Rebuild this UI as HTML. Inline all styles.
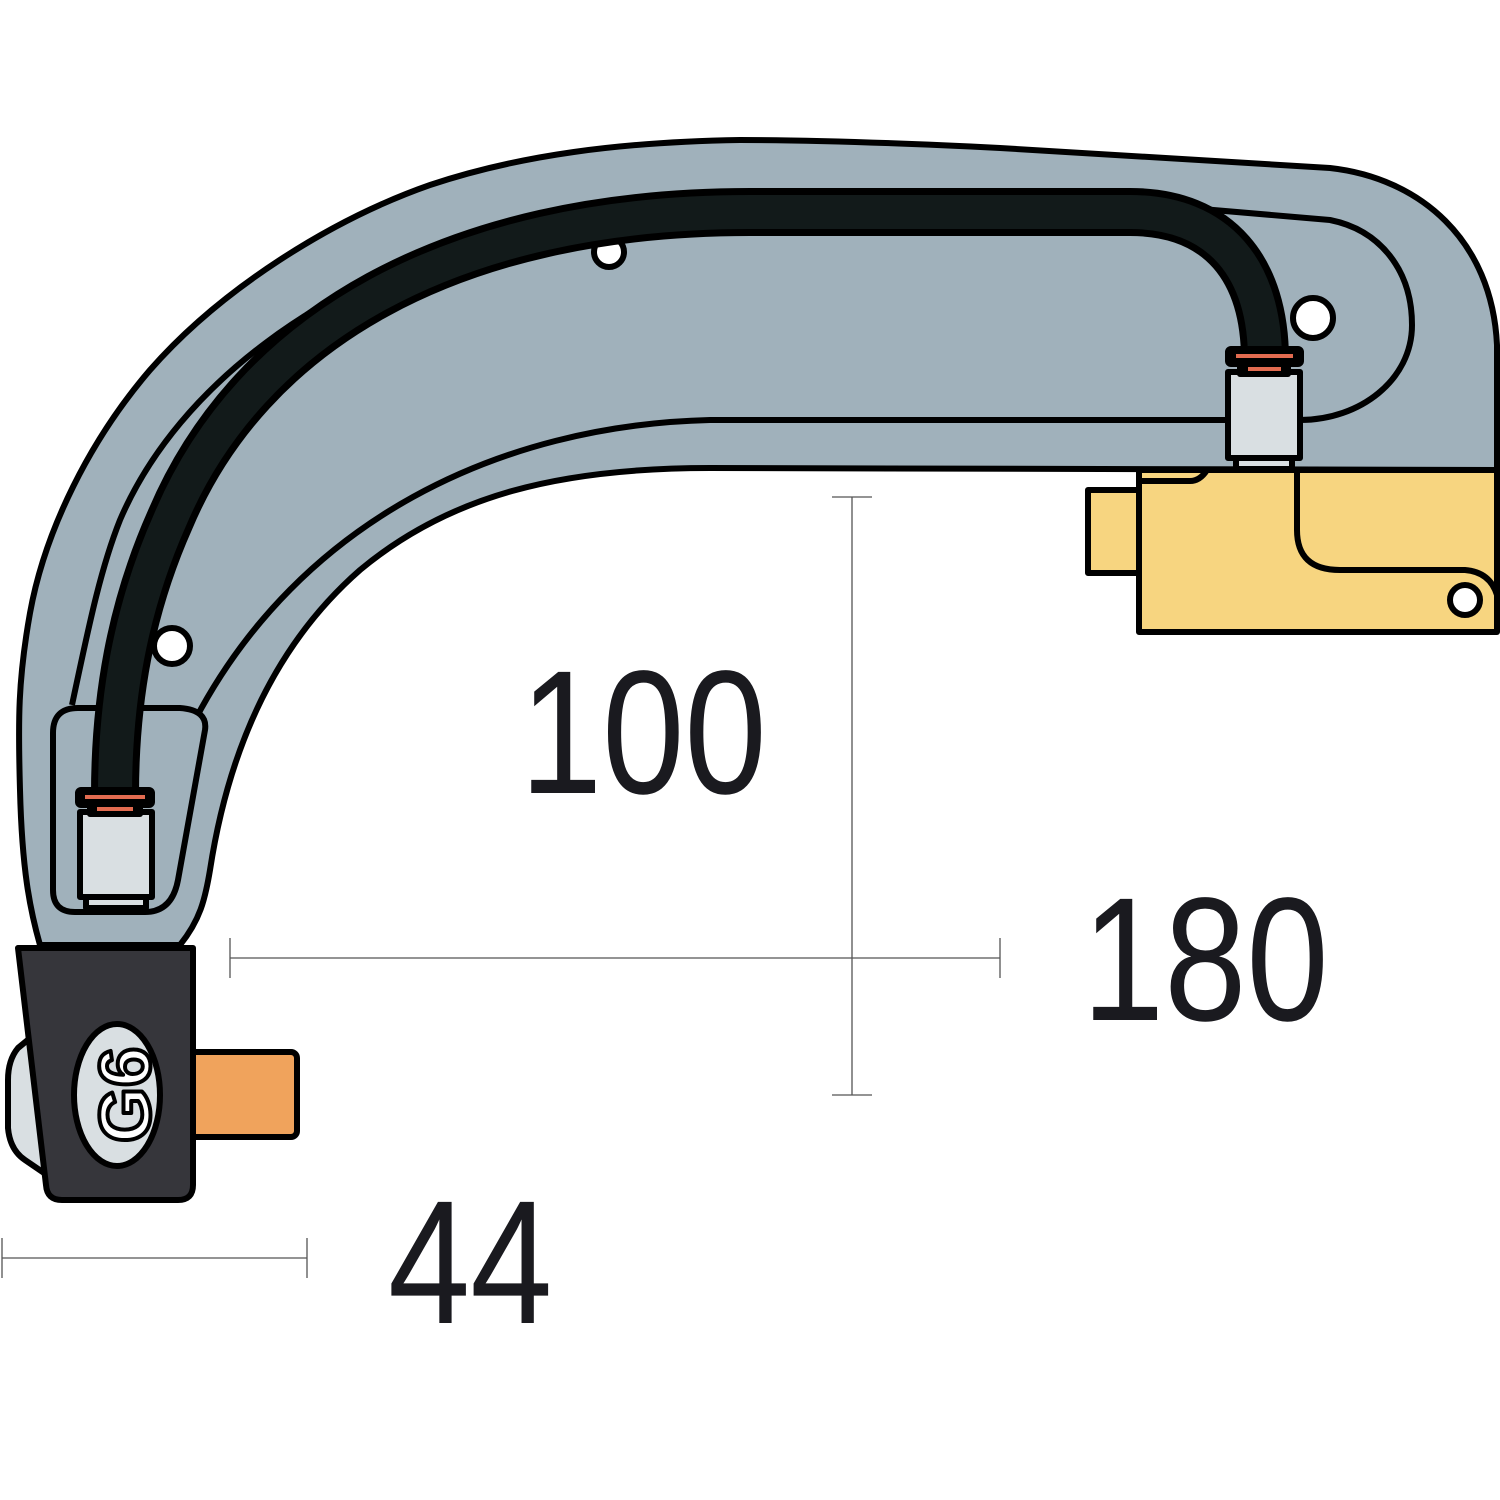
<!DOCTYPE html>
<html><head><style>html,body{margin:0;padding:0;background:#fff}svg{display:block}</style></head>
<body>
<svg width="1500" height="1500" viewBox="0 0 1500 1500" xmlns="http://www.w3.org/2000/svg">
<g stroke="#000" stroke-width="6" stroke-linejoin="round">
<!-- arm -->
<path fill="#a0b1bb" d="M1497,470 L1497,345 C1492,240 1420,178 1330,168 L1000,148 C900,143 800,140 740,140 C620,142 520,155 430,185 C330,220 220,290 150,370 C90,440 45,530 30,613 C18,680 18,720 20,790 C22,870 30,910 40,945 L180,945 C200,920 205,900 210,870 C230,740 280,640 360,570 C450,495 560,468 710,468 Z"/>
<path fill="none" d="M1190,208 L1330,220 C1380,230 1412,270 1412,325 C1412,380 1360,420 1300,420 L710,420 C500,425 300,520 195,720"/>
<path fill="none" d="M485,236 C330,280 180,380 120,520 C100,570 88,630 72,705"/>
<!-- holes -->
<circle cx="609" cy="252" r="15" fill="#fff"/>
<circle cx="1313" cy="318" r="20" fill="#fff"/>
<circle cx="172" cy="646" r="18" fill="#fff"/>
<!-- left box -->
<path fill="#a0b1bb" d="M78,708 L180,708 Q208,710 205,730 L178,880 Q172,912 145,912 L75,912 Q53,912 53,890 L53,733 Q53,708 78,708 Z"/>
<!-- hose -->
<path fill="none" stroke="#000" stroke-width="48" stroke-linejoin="round" d="M1265,360 C1265,270 1220,212 1130,212 L750,212 C450,212 250,330 170,520 C130,610 115,700 115,795"/>
<path fill="none" stroke="#121a1a" stroke-width="34" d="M1265,360 C1265,270 1220,212 1130,212 L750,212 C450,212 250,330 170,520 C130,610 115,700 115,795"/>
<!-- yellow block -->
<rect x="1088" y="490" width="52" height="83" fill="#f7d580"/>
<rect x="1139" y="470" width="358" height="162" fill="#f7d580"/>
<path fill="none" d="M1140,481 L1190,481 Q1200,481 1207,470"/>
<path fill="none" d="M1297,470 L1297,530 Q1297,570 1340,570 L1465,570 Q1490,572 1497,595"/>
<circle cx="1465" cy="600" r="15" fill="#fff"/>
<!-- right fitting -->
<rect x="1236" y="455" width="56" height="14" fill="#d9dfe2"/>
<rect x="1228" y="372" width="72" height="86" fill="#d9dfe2"/>
<rect x="1240" y="362" width="48" height="12" fill="#000"/>
<rect x="1228" y="349" width="73" height="15" rx="3" fill="#000"/>
<rect x="1236" y="354" width="57" height="4" fill="#e26b50" stroke="none"/>
<rect x="1248" y="367" width="33" height="4" fill="#e26b50" stroke="none"/>
<!-- left fitting -->
<rect x="86" y="894" width="60" height="14" fill="#d9dfe2"/>
<rect x="80" y="812" width="72" height="85" fill="#d9dfe2"/>
<rect x="90" y="802" width="50" height="12" fill="#000"/>
<rect x="78" y="790" width="74" height="15" rx="3" fill="#000"/>
<rect x="85" y="795" width="60" height="4" fill="#e26b50" stroke="none"/>
<rect x="97" y="807" width="36" height="4" fill="#e26b50" stroke="none"/>
<!-- head -->
<path fill="#d9dfe2" d="M40,1030 L18,1048 Q8,1060 8,1080 L8,1128 Q10,1150 25,1160 L47,1175 Z"/>
<rect x="190" y="1052" width="107" height="85" rx="6" fill="#f0a35c"/>
<path fill="#36363b" d="M18,948 L193,948 L193,1185 Q193,1200 178,1200 L62,1200 Q47,1200 46,1185 Z"/>
<ellipse cx="117" cy="1095" rx="43" ry="71" fill="#d9dfe2"/>
<text x="0" y="0" transform="translate(150,1095) rotate(-90)" font-family="Liberation Sans, sans-serif" font-size="72" font-weight="bold" fill="#fff" stroke="#000" stroke-width="4" text-anchor="middle">G6</text>
</g>
<!-- dimensions -->
<g stroke="#555" stroke-width="1.3" fill="none">
<line x1="852" y1="497" x2="852" y2="1095"/><line x1="832" y1="497" x2="872" y2="497"/><line x1="832" y1="1095" x2="872" y2="1095"/>
<line x1="230" y1="958" x2="1000" y2="958"/><line x1="230" y1="938" x2="230" y2="978"/><line x1="1000" y1="938" x2="1000" y2="978"/>
<line x1="2" y1="1258" x2="307" y2="1258"/><line x1="307" y1="1238" x2="307" y2="1278"/><line x1="2" y1="1238" x2="2" y2="1278"/>
</g>
<g font-family="Liberation Sans, sans-serif" font-size="176" fill="#1a1a1f">
<text transform="translate(520,793) scale(0.84,1)">100</text>
<text transform="translate(1082,1020) scale(0.84,1)">180</text>
<text transform="translate(388,1323) scale(0.84,1)">44</text>
</g>
</svg>
</body></html>
